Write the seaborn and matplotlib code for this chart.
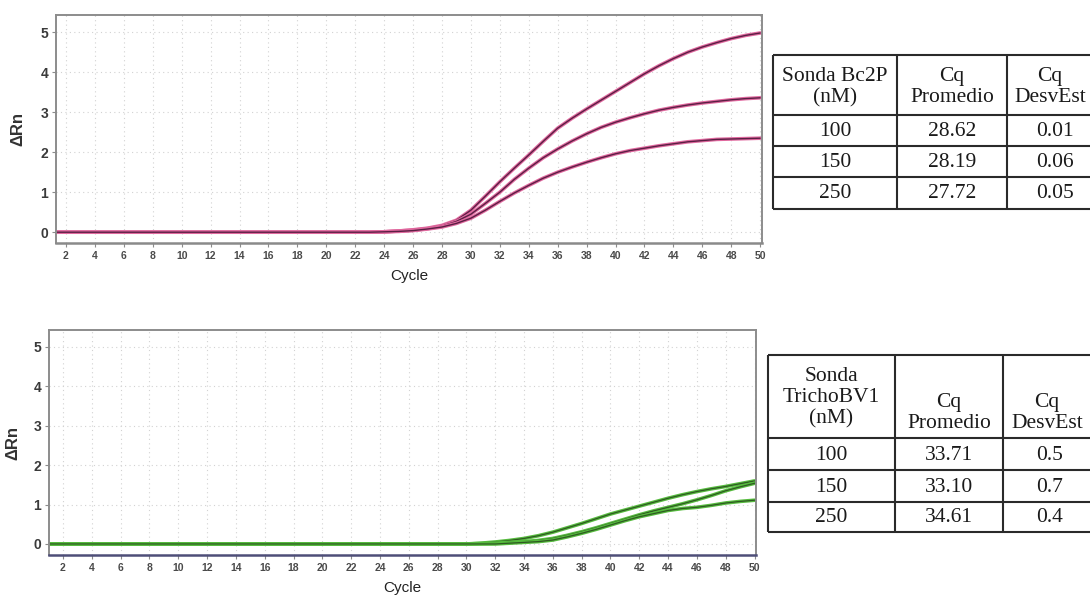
import numpy as np
import pandas as pd
import matplotlib
matplotlib.use("Agg")
import matplotlib.pyplot as plt
import matplotlib.patheffects as pe
import seaborn as sns

# ---- amplification data (ΔRn per cycle) ----
cycles = list(range(1, 51))

bc2p_250 = [0.00, 0.00, 0.00, 0.00, 0.00, 0.00, 0.00, 0.00, 0.00, 0.00,
            0.00, 0.00, 0.00, 0.00, 0.00, 0.00, 0.00, 0.00, 0.00, 0.00,
            0.00, 0.00, 0.00, 0.01, 0.03, 0.06, 0.10, 0.17, 0.30, 0.55,
            0.90, 1.26, 1.60, 1.93, 2.27, 2.60, 2.85, 3.08, 3.30, 3.52,
            3.74, 3.96, 4.16, 4.34, 4.50, 4.63, 4.74, 4.84, 4.92, 4.98]
bc2p_150 = [0.00, 0.00, 0.00, 0.00, 0.00, 0.00, 0.00, 0.00, 0.00, 0.00,
            0.00, 0.00, 0.00, 0.00, 0.00, 0.00, 0.00, 0.00, 0.00, 0.00,
            0.00, 0.00, 0.00, 0.01, 0.03, 0.05, 0.09, 0.15, 0.27, 0.45,
            0.72, 1.00, 1.32, 1.60, 1.86, 2.08, 2.28, 2.46, 2.62, 2.75,
            2.86, 2.96, 3.05, 3.12, 3.18, 3.23, 3.27, 3.31, 3.34, 3.36]
bc2p_100 = [0.00, 0.00, 0.00, 0.00, 0.00, 0.00, 0.00, 0.00, 0.00, 0.00,
            0.00, 0.00, 0.00, 0.00, 0.00, 0.00, 0.00, 0.00, 0.00, 0.00,
            0.00, 0.00, 0.00, 0.01, 0.02, 0.04, 0.08, 0.13, 0.22, 0.35,
            0.55, 0.77, 0.98, 1.17, 1.35, 1.50, 1.63, 1.75, 1.86, 1.96,
            2.04, 2.10, 2.16, 2.21, 2.26, 2.29, 2.32, 2.33, 2.34, 2.35]

tricho_150 = [0.00, 0.00, 0.00, 0.00, 0.00, 0.00, 0.00, 0.00, 0.00, 0.00,
              0.00, 0.00, 0.00, 0.00, 0.00, 0.00, 0.00, 0.00, 0.00, 0.00,
              0.00, 0.00, 0.00, 0.00, 0.00, 0.00, 0.00, 0.00, 0.00, 0.00,
              0.02, 0.05, 0.09, 0.14, 0.21, 0.30, 0.41, 0.52, 0.64, 0.76,
              0.86, 0.96, 1.06, 1.16, 1.25, 1.33, 1.40, 1.46, 1.53, 1.60]
tricho_100 = [0.00, 0.00, 0.00, 0.00, 0.00, 0.00, 0.00, 0.00, 0.00, 0.00,
              0.00, 0.00, 0.00, 0.00, 0.00, 0.00, 0.00, 0.00, 0.00, 0.00,
              0.00, 0.00, 0.00, 0.00, 0.00, 0.00, 0.00, 0.00, 0.00, 0.00,
              0.01, 0.02, 0.04, 0.06, 0.09, 0.14, 0.22, 0.31, 0.41, 0.52,
              0.63, 0.74, 0.84, 0.93, 1.02, 1.12, 1.23, 1.35, 1.45, 1.54]
tricho_250 = [0.00, 0.00, 0.00, 0.00, 0.00, 0.00, 0.00, 0.00, 0.00, 0.00,
              0.00, 0.00, 0.00, 0.00, 0.00, 0.00, 0.00, 0.00, 0.00, 0.00,
              0.00, 0.00, 0.00, 0.00, 0.00, 0.00, 0.00, 0.00, 0.00, 0.00,
              0.00, 0.00, 0.02, 0.04, 0.06, 0.10, 0.18, 0.27, 0.37, 0.48,
              0.59, 0.69, 0.77, 0.85, 0.90, 0.93, 0.98, 1.04, 1.08, 1.11]

# ---- summary tables ----
conc_nm = ["100", "150", "250"]
bc2p_cq_mean = ["28.62", "28.19", "27.72"]
bc2p_cq_sd = ["0.01", "0.06", "0.05"]
tricho_cq_mean = ["33.71", "33.10", "34.61"]
tricho_cq_sd = ["0.5", "0.7", "0.4"]

bc2p_header = ["Sonda Bc2P\n(nM)", "Cq\nPromedio", "Cq\nDesvEst"]
tricho_header = ["Sonda\nTrichoBV1\n(nM)", "Cq\nPromedio", "Cq\nDesvEst"]

x_ticks = list(range(2, 51, 2))
y_ticks = [0, 1, 2, 3, 4, 5]


def long_frame(curves):
    rows = []
    for name, vals in curves.items():
        for c, v in zip(cycles, vals):
            rows.append({"Cycle": c, "dRn": v, "probe": name})
    return pd.DataFrame(rows)


sns.set_style("white")
plt.rcParams["font.family"] = ["Liberation Sans", "DejaVu Sans"]

W, H = 1090, 599
fig = plt.figure(figsize=(W / 100, H / 100), dpi=100)


def px_axes(left, top, right, bottom):
    return fig.add_axes([left / W, 1 - bottom / H, (right - left) / W, (bottom - top) / H])


def style_qpcr(ax, xlim, ylim, bottom_color, ylabel_x):
    ax.set_xlim(*xlim)
    ax.set_ylim(*ylim)
    ax.set_xticks(x_ticks)
    ax.set_yticks(y_ticks)
    ax.set_xticklabels([str(t) for t in x_ticks], fontsize=7.5, fontweight="bold",
                       color="#4a4a4a")
    ax.set_yticklabels([str(t) for t in y_ticks], fontsize=10, fontweight="bold",
                       color="#3a3a3a")
    ax.tick_params(axis="both", direction="out", length=3, width=0.8, color="#8c8c8c",
                   pad=2.5, bottom=True, left=True)
    ax.grid(True, color="#d2d2d2", linestyle=(0, (1, 3)), linewidth=0.8)
    for side in ["top", "left", "right"]:
        ax.spines[side].set_color("#8c8c8c")
        ax.spines[side].set_linewidth(1.4)
    ax.spines["bottom"].set_color(bottom_color)
    ax.spines["bottom"].set_linewidth(1.8)
    ax.set_xlabel("Cycle", fontsize=11, color="#222222", labelpad=6)
    ax.set_ylabel("ΔRn", fontsize=12, fontweight="bold", color="#333333")
    ax.yaxis.set_label_coords(ylabel_x, 0.5)


# ---- Bc2P amplification plot ----
ax1 = px_axes(56, 15, 762, 243)
df1 = long_frame({"250": bc2p_250, "150": bc2p_150, "100": bc2p_100})
sns.lineplot(data=df1, x="Cycle", y="dRn", hue="probe", ax=ax1,
             palette=["#5b1f44", "#5b1f44", "#5b1f44"], linewidth=1.0, legend=False)
for ln in ax1.get_lines():
    ln.set_path_effects([pe.Stroke(linewidth=2.6, foreground="#e0689e"), pe.Normal()])
style_qpcr(ax1, (1.31, 50.13), (-0.27, 5.43), "#8a8a8a", -31 / 706)

# ---- TrichoBV1 amplification plot ----
ax2 = px_axes(49, 330, 756, 555)
df2 = long_frame({"150": tricho_150, "100": tricho_100, "250": tricho_250})
sns.lineplot(data=df2, x="Cycle", y="dRn", hue="probe", ax=ax2,
             palette=["#2e5a22", "#2e5a22", "#2e5a22"], linewidth=0.9, legend=False)
for ln in ax2.get_lines():
    ln.set_path_effects([pe.Stroke(linewidth=2.6, foreground="#56bb3e"), pe.Normal()])
style_qpcr(ax2, (1.03, 50.1), (-0.28, 5.43), "#4e4e78", -29 / 707)

# ---- summary tables, drawn on a pixel overlay ----
ov = fig.add_axes([0, 0, 1, 1])
ov.set_xlim(0, W)
ov.set_ylim(H, 0)
ov.axis("off")
ov.patch.set_visible(False)

serif = ["Liberation Serif", "DejaVu Serif"]


def draw_table(xs, ys, header, header_y, header_x, body_x, col1, col2, col3):
    for x in xs:
        ov.plot([x, x], [ys[0], ys[-1]], color="#2a2a2a", lw=1.5, solid_capstyle="butt")
    for y in ys:
        ov.plot([xs[0], xs[-1]], [y, y], color="#2a2a2a", lw=1.5, solid_capstyle="butt")
    for j, text in enumerate(header):
        ov.text(header_x[j], header_y[j], text, ha="center", va="center", fontsize=15.5,
                family=serif, color="#1a1a1a", linespacing=1.15)
    for i, vals in enumerate(zip(col1, col2, col3)):
        cy = (ys[i + 1] + ys[i + 2]) / 2 + 1
        for j, text in enumerate(vals):
            ov.text(body_x[j], cy, text, ha="center", va="center", fontsize=15.5,
                    family=serif, color="#1a1a1a")


draw_table([773, 897, 1007, 1117], [55, 115, 146, 177, 209], bc2p_header,
           [87, 87, 87], [835, 952, 1050], [835, 952, 1055],
           conc_nm, bc2p_cq_mean, bc2p_cq_sd)
draw_table([768, 895, 1003, 1111], [355, 438, 470, 502, 532], tricho_header,
           [398, 413, 413], [831, 949, 1047], [831, 949, 1050],
           conc_nm, tricho_cq_mean, tricho_cq_sd)

fig.savefig("out.png", dpi=100)
